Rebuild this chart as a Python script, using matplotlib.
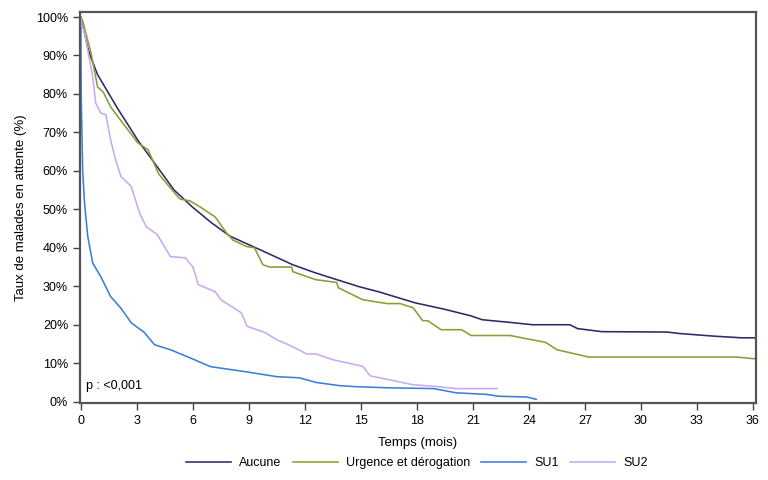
import matplotlib
matplotlib.use("Agg")
import matplotlib.pyplot as plt
from matplotlib.ticker import FuncFormatter

plt.rcParams['font.family'] = ['Liberation Sans', 'DejaVu Sans']

# Kaplan-Meier style curves (months, % still waiting)
aucune_t = [0, 0.03, 0.37, 0.5, 0.9, 2.0, 3.05, 4.1, 5.0, 6.0, 7.0, 8.0, 9.6, 11.35, 12.5,
            13.2, 14.9, 16.0, 17.9, 19.5, 20.9, 21.5, 23.0, 24.2, 26.2, 26.6, 27.9,
            31.4, 32.1, 34.0, 35.4, 36.2]
aucune_p = [100, 99.7, 92, 90, 85, 76, 68, 61, 55, 50.5, 46.5, 43, 39.5, 35.6, 33.6,
            32.5, 29.9, 28.5, 25.7, 24, 22.3, 21.3, 20.6, 20, 20, 19, 18.2,
            18.1, 17.7, 17, 16.6, 16.6]

urg_t = [0, 0.1, 0.55, 0.9, 1.2, 1.6, 2.0, 3.05, 3.6, 4.1, 4.2, 5.3, 5.85, 6.4, 7.2,
         7.8, 8.15, 8.9, 9.3, 9.75, 10.1, 11.3, 11.35, 12.05, 12.6, 13.7, 13.8, 15.1,
         16.4, 17.1, 17.8, 18.0, 18.3, 18.6, 19.3, 20.4, 20.9, 23.0, 24.9, 25.5, 27.2,
         35.1, 36.2]
urg_p = [100, 99, 90.6, 81.8, 80.5, 76.6, 74, 67.3, 65.5, 60, 59, 52.7, 52.2, 50.6, 48,
         43.9, 42, 40.3, 40, 35.6, 35, 35, 33.8, 32.6, 31.7, 31, 29.6, 26.5,
         25.5, 25.5, 24.4, 23.1, 21.1, 21, 18.7, 18.7, 17.2, 17.2, 15.4, 13.5, 11.6,
         11.6, 11.1]

su1_t = [0, 0.02, 0.1, 0.2, 0.37, 0.64, 1.07, 1.6, 2.15, 2.7, 3.4, 3.95, 4.8, 5.7, 6.95,
         8.8, 10.5, 11.7, 12.6, 13.8, 14.7, 16.5, 18.9, 20.1, 21.7, 22.4, 23.9, 24.4]
su1_p = [100, 80, 60, 51.7, 43, 36, 32.5, 27.3, 24.3, 20.5, 18, 14.8, 13.5, 11.7, 9.1,
         7.8, 6.5, 6.2, 5, 4.2, 3.9, 3.6, 3.4, 2.3, 1.9, 1.4, 1.2, 0.6]

su2_t = [0, 0.05, 0.2, 0.37, 0.64, 0.8, 1.07, 1.34, 1.6, 1.87, 2.15, 2.7, 3.15, 3.5, 4.1,
         4.8, 5.6, 6.0, 6.3, 7.2, 7.5, 8.6, 8.9, 9.85, 10.5, 11.35, 12.1, 12.6, 13.5,
         15.1, 15.5, 17.8, 18.9, 20.1, 22.3]
su2_p = [100, 98, 96, 91.4, 84.4, 77.6, 75, 74.6, 68, 62.8, 58.5, 56, 49, 45.5, 43.4,
         37.7, 37.4, 35, 30.4, 28.6, 26.5, 23.1, 19.6, 18, 16.1, 14.3, 12.4, 12.4, 10.9,
         9.2, 6.7, 4.4, 4, 3.4, 3.4]

series = [
    ("Aucune", aucune_t, aucune_p, "#2B2A6B"),
    ("Urgence et dérogation", urg_t, urg_p, "#86A033"),
    ("SU1", su1_t, su1_p, "#3A80D8"),
    ("SU2", su2_t, su2_p, "#C9A9F0"),
]

fig = plt.figure(figsize=(7.68, 4.8), dpi=100)
ax = fig.add_axes([0.104, 0.160, 0.880, 0.815])

for name, t, p, col in series:
    ax.plot(t, p, color=col, lw=1.15, label=name)

ax.set_xlim(-0.05, 36.15)
ax.set_ylim(-0.4, 101.3)
ax.set_xticks(range(0, 37, 3))
ax.set_yticks(range(0, 101, 10))
ax.yaxis.set_major_formatter(FuncFormatter(lambda v, pos: "%d%%" % v))
ax.tick_params(labelsize=9, length=5, width=1, color="#444444")

for s in ax.spines.values():
    s.set_color("#555555")
    s.set_linewidth(1.6)

ax.set_xlabel("Temps (mois)", fontsize=9.5, labelpad=7)
ax.set_ylabel("Taux de malades en attente (%)", fontsize=9.5, labelpad=6)
ax.text(0.3, 2.5, "p : <0,001", fontsize=9, ha="left", va="bottom")

fig.legend(loc="center", bbox_to_anchor=(0.543, 0.035), ncol=4, frameon=False,
           fontsize=9, handlelength=3.6, columnspacing=0.9, handletextpad=0.65)

fig.savefig("out.png", dpi=100)
